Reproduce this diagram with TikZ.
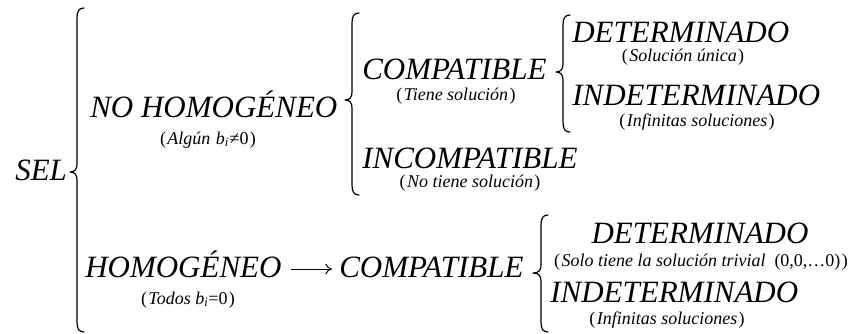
\documentclass[tikz,border=0pt]{standalone}
\usepackage{fontspec}
\usepackage{graphicx}
\setmainfont{Liberation Serif}
\usetikzlibrary{calc,arrows.meta}

% font sizes: large italic headings, small italic remarks
\newcommand\headfont{\fontsize{23.25pt}{26pt}\selectfont\itshape}
\newcommand\notefont{\fontsize{13.5pt}{15pt}\selectfont\itshape}
% upright parentheses round each remark
\newcommand\lpar{{\upshape(}\kern1pt}
\newcommand\rpar{\kern1pt{\upshape)}}
\newcommand\remark[1]{\lpar#1\rpar}

% curly brace: #1 stem x, #2 top y, #3 tip y, #4 bottom y, #5 tip x
\newcommand\sysbrace[5]{%
  \draw[bracestroke] ({#1+7},#2) .. controls ({#1+2},#2) and (#1,{#2+3}) .. (#1,{#2+10})
    -- (#1,{#3-8}) .. controls (#1,{#3-3}) and ({#1-2},#3) .. (#5,#3)
    .. controls ({#1-2},#3) and (#1,{#3+3}) .. (#1,{#3+8})
    -- (#1,{#4-10}) .. controls (#1,{#4-3}) and ({#1+2},#4) .. ({#1+7},#4);}

\begin{document}
\begin{tikzpicture}[x=0.75pt,y=-0.75pt,
  head/.style={inner sep=0pt,anchor=base west,font=\headfont},
  note/.style={inner sep=0pt,anchor=base,font=\notefont},
  bracestroke/.style={line width=0.9pt,line cap=round,line join=round},
  implies/.style={line width=0.75pt,-{To[length=5pt,width=8pt]}}]
\fill[white] (0,0) rectangle (853,333);
\useasboundingbox (0,0) rectangle (853,333);

% root
\node[head] (sel) at (15,180) {SEL};
\sysbrace{77}{8}{172}{332}{70}

% non-homogeneous branch
\node[head] (nohom) at (90,117) {NO HOMOGÉNEO};
\node[note] (nohomsub) at (208,144) {\remark{Algún\kern4pt\textit{b}\textsubscript{\textit{i}}\kern0.5pt{\upshape≠0}}};
\sysbrace{352}{13}{100}{195}{345}

\node[head] (comp) at (362,79) {COMPATIBLE};
\node[note] (compsub) at (456,100) {\remark{Tiene solución}};
\sysbrace{563}{15}{72}{132}{556}

\node[head] (det) at (572,42) {DETERMINADO};
\node[note] (detsub) at (683,61) {\remark{Solución única}};
\node[head] (indet) at (572,105) {INDETERMINADO};
\node[note] (indetsub) at (697,126) {\remark{Infinitas soluciones}};

\node[head] (incomp) at (362,168) {INCOMPATIBLE};
\node[note] (incompsub) at (470,187) {\remark{No tiene solución}};

% homogeneous branch
\node[head] (hom) at (85,277) {HOMOGÉNEO};
\node[note] (homsub) at (188,304) {\remark{Todos \textit{b}\textsubscript{\textit{i}}{\upshape=0}}};
\node[head] (comp2) at (339,277) {COMPATIBLE};
\draw[implies] ($(hom.base east)+(9,-8)$) -- ($(comp2.base west)+(-7,-8)$);
\sysbrace{541}{215}{273}{332}{533}

\node[head,anchor=base] (det2) at (700,243) {DETERMINADO};
\node[note] (det2sub) at (701,266) {\remark{Solo tiene la solución trivial\enspace{\upshape(0,0,…0)}}};
\node[head] (indet2) at (550,302) {INDETERMINADO};
\node[note] (indet2sub) at (667,324) {\remark{Infinitas soluciones}};
\end{tikzpicture}
\end{document}
